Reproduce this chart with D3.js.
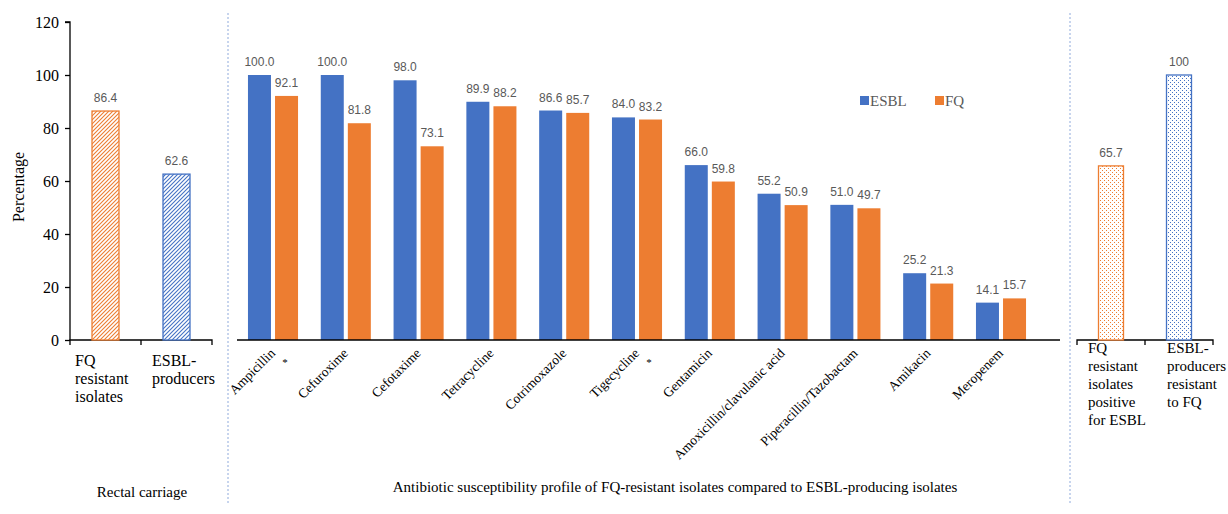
<!DOCTYPE html>
<html>
<head>
<meta charset="utf-8">
<script src="https://cdn.jsdelivr.net/npm/d3@7"></script>
<style>
  body { margin: 0; background: #fff; }
  svg { display: block; }
  .serif { font-family: "Liberation Serif", "Times New Roman", serif; }
  .val { font-family: "Liberation Sans", Arial, sans-serif; font-size: 12px; fill: #595959; }
</style>
</head>
<body>
<svg id="chart" width="1228" height="514"></svg>
<script>
// data
var yTicks = [0, 20, 40, 60, 80, 100, 120];

var carriageLabels = ['FQ resistant isolates', 'ESBL-producers'];
var carriageValues = [86.4, 62.6];

var antibiotics = ['Ampicillin', 'Cefuroxime', 'Cefotaxime', 'Tetracycline', 'Cotrimoxazole',
  'Tigecycline', 'Gentamicin', 'Amoxicillin/clavulanic acid', 'Piperacillin/Tazobactam',
  'Amikacin', 'Meropenem'];
var series = ['ESBL', 'FQ'];
var esblValues = [100.0, 100.0, 98.0, 89.9, 86.6, 84.0, 66.0, 55.2, 51.0, 25.2, 14.1];
var fqValues = [92.1, 81.8, 73.1, 88.2, 85.7, 83.2, 59.8, 50.9, 49.7, 21.3, 15.7];
var starred = ['Ampicillin', 'Tigecycline'];

var overlapLabels = ['FQ resistant isolates positive for ESBL', 'ESBL-producers resistant to FQ'];
var overlapValues = [65.7, 100];
var overlapText = ['65.7', '100'];

var carriageTitle = 'Rectal carriage';
var profileTitle = 'Antibiotic susceptibility profile of FQ-resistant isolates compared to ESBL-producing isolates';

var blue = '#4472C4';
var orange = '#ED7D31';

var svg = d3.select('#chart');
var defs = svg.append('defs');

// hatch patterns
function hatch(id, color) {
  var p = defs.append('pattern')
    .attr('id', id)
    .attr('patternUnits', 'userSpaceOnUse')
    .attr('width', 4).attr('height', 4);
  p.append('rect').attr('width', 4).attr('height', 4).attr('fill', '#fff');
  p.append('path')
    .attr('d', 'M-1,1 l2,-2 M0,4 l4,-4 M3,5 l2,-2')
    .attr('stroke', color).attr('stroke-width', 1.1);
}
function dots(id, color) {
  var p = defs.append('pattern')
    .attr('id', id)
    .attr('patternUnits', 'userSpaceOnUse')
    .attr('width', 4).attr('height', 4);
  p.append('rect').attr('width', 4).attr('height', 4).attr('fill', '#fff');
  p.append('rect').attr('x', 0).attr('y', 0).attr('width', 1).attr('height', 1).attr('fill', color);
  p.append('rect').attr('x', 2).attr('y', 2).attr('width', 1).attr('height', 1).attr('fill', color);
}
hatch('hatchOrange', orange);
hatch('hatchBlue', blue);
dots('dotOrange', orange);
dots('dotBlue', blue);

var y = d3.scaleLinear().domain([0, 120]).range([340, 22]);

// y axis
var yAxis = svg.append('g')
  .attr('transform', 'translate(70,0)')
  .call(d3.axisLeft(y).tickValues(yTicks).tickSize(5).tickPadding(6));
yAxis.selectAll('text')
  .attr('class', 'serif')
  .style('font-size', '16px')
  .attr('fill', '#000');
yAxis.selectAll('line, path').attr('stroke', '#000').attr('stroke-width', 1.3);
yAxis.select('.domain').attr('d', 'M-5,' + y(120) + 'H0V' + y(0));

svg.append('text')
  .attr('class', 'serif')
  .attr('transform', 'translate(24,' + 187 + ') rotate(-90)')
  .attr('text-anchor', 'middle')
  .style('font-size', '16px')
  .text('Percentage');

// separators
[228, 1070].forEach(function (sx) {
  svg.append('line')
    .attr('x1', sx).attr('x2', sx)
    .attr('y1', 13).attr('y2', 505)
    .attr('stroke', '#8FAADC')
    .attr('stroke-width', 1)
    .attr('stroke-dasharray', '2,2');
});

// small panel helper (left and right)
function smallPanel(opts) {
  var x = d3.scaleBand().domain(opts.labels).range(opts.range);
  var g = svg.append('g');
  var r = opts.range;

  g.append('path')
    .attr('d', 'M' + r[0] + ',' + (y(0) + 5) + 'V' + y(0) + 'H' + r[1] + 'V' + (y(0) + 5) +
      'M' + (r[0] + x.step()) + ',' + y(0) + 'V' + (y(0) + 5))
    .attr('fill', 'none')
    .attr('stroke', '#000')
    .attr('stroke-width', 1.3);

  g.selectAll('rect.bar')
    .data(opts.values)
    .enter()
    .append('rect')
    .attr('class', 'bar')
    .attr('x', function (d, i) { return x(opts.labels[i]) + x.bandwidth() / 2 - opts.barWidth / 2; })
    .attr('y', function (d) { return y(d); })
    .attr('width', opts.barWidth)
    .attr('height', function (d) { return y(0) - y(d); })
    .attr('fill', function (d, i) { return 'url(#' + opts.fills[i] + ')'; })
    .attr('stroke', function (d, i) { return opts.colors[i]; })
    .attr('stroke-width', 1.3);

  g.selectAll('text.val')
    .data(opts.values)
    .enter()
    .append('text')
    .attr('class', 'val')
    .attr('x', function (d, i) { return x(opts.labels[i]) + x.bandwidth() / 2; })
    .attr('y', function (d) { return y(d) - 9; })
    .attr('text-anchor', 'middle')
    .text(function (d, i) { return opts.text ? opts.text[i] : d.toFixed(1); });

  opts.lines.forEach(function (lines, i) {
    var tx = x(opts.labels[i]) + opts.textOffset[i];
    var t = g.append('text')
      .attr('class', 'serif')
      .style('font-size', opts.fontSize)
      .attr('x', tx)
      .attr('y', opts.textY);
    lines.forEach(function (ln, j) {
      t.append('tspan')
        .attr('x', tx)
        .attr('dy', j === 0 ? 0 : 18)
        .text(ln);
    });
  });
}

smallPanel({
  labels: carriageLabels,
  values: carriageValues,
  range: [70, 212],
  barWidth: 27,
  fills: ['hatchOrange', 'hatchBlue'],
  colors: [orange, blue],
  lines: [['FQ', 'resistant', 'isolates'], ['ESBL-', 'producers']],
  textOffset: [5, 11],
  fontSize: '16px',
  textY: 366
});

smallPanel({
  labels: overlapLabels,
  values: overlapValues,
  text: overlapText,
  range: [1077, 1213],
  barWidth: 25,
  fills: ['dotOrange', 'dotBlue'],
  colors: [orange, blue],
  lines: [['FQ', 'resistant', 'isolates', 'positive', 'for ESBL'], ['ESBL-', 'producers', 'resistant', 'to FQ']],
  textOffset: [11, 22],
  fontSize: '15px',
  textY: 353
});

svg.append('text')
  .attr('class', 'serif')
  .attr('x', 142).attr('y', 497)
  .attr('text-anchor', 'middle')
  .style('font-size', '15px')
  .text(carriageTitle);

// middle grouped panel
var x0 = d3.scaleBand().domain(antibiotics).range([236.6, 1037.4]);
var x1 = d3.scaleBand().domain(series).range([0, x0.bandwidth()])
  .paddingInner(0.15).paddingOuter(0.42);
var color = d3.scaleOrdinal().domain(series).range([blue, orange]);

var rows = antibiotics.map(function (name, i) {
  return { name: name, values: [
    { key: 'ESBL', value: esblValues[i] },
    { key: 'FQ', value: fqValues[i] }
  ] };
});

var mid = svg.append('g');

var groups = mid.selectAll('g.group')
  .data(rows)
  .enter()
  .append('g')
  .attr('class', 'group')
  .attr('transform', function (d) { return 'translate(' + x0(d.name) + ',0)'; });

groups.selectAll('rect')
  .data(function (d) { return d.values; })
  .enter()
  .append('rect')
  .attr('x', function (d) { return x1(d.key); })
  .attr('y', function (d) { return y(d.value); })
  .attr('width', x1.bandwidth())
  .attr('height', function (d) { return y(0) - y(d.value); })
  .attr('fill', function (d) { return color(d.key); });

groups.selectAll('text.val')
  .data(function (d) { return d.values; })
  .enter()
  .append('text')
  .attr('class', 'val')
  .attr('x', function (d) { return x1(d.key) + x1.bandwidth() / 2; })
  .attr('y', function (d) { return y(d.value) - 9; })
  .attr('text-anchor', 'middle')
  .text(function (d) { return d.value.toFixed(1); });

mid.append('line')
  .attr('x1', 237).attr('x2', 1060)
  .attr('y1', y(0)).attr('y2', y(0))
  .attr('stroke', '#000')
  .attr('stroke-width', 1.3);

// rotated category labels
groups.append('text')
  .attr('class', 'serif')
  .style('font-size', '13.5px')
  .attr('text-anchor', 'end')
  .attr('transform', 'translate(' + (x0.bandwidth() / 2 + 3) + ',' + (y(0) + 14) + ') rotate(-45)')
  .text(function (d) { return d.name; });

groups.filter(function (d) { return starred.indexOf(d.name) >= 0; })
  .append('text')
  .attr('class', 'serif')
  .style('font-size', '11px')
  .attr('x', x0.bandwidth() / 2 + 12)
  .attr('y', y(0) + 26)
  .attr('text-anchor', 'middle')
  .text('*');

svg.append('text')
  .attr('class', 'serif')
  .attr('x', 675).attr('y', 492)
  .attr('text-anchor', 'middle')
  .style('font-size', '15px')
  .text(profileTitle);

// legend
var legend = svg.append('g')
  .attr('transform', 'translate(860,96)');
var items = legend.selectAll('g')
  .data(series)
  .enter()
  .append('g')
  .attr('transform', function (d, i) { return 'translate(' + (i * 75) + ',0)'; });
items.append('rect')
  .attr('width', 9).attr('height', 9)
  .attr('fill', function (d) { return color(d); });
items.append('text')
  .attr('class', 'serif')
  .attr('x', 10).attr('y', 10)
  .style('font-size', '15px')
  .attr('fill', '#595959')
  .text(function (d) { return d; });
</script>
</body>
</html>
